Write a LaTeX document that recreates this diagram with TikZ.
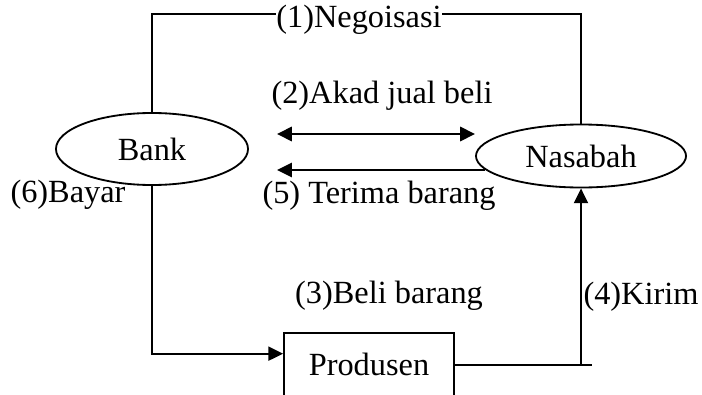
\documentclass[tikz,border=0pt]{standalone}
\usepackage{fontspec}
\setmainfont{Liberation Serif}
\usetikzlibrary{
  arrows.meta,
  shapes.geometric,
  positioning
}

\begin{document}
\begin{tikzpicture}[
      x=0.025cm, y=-0.025cm,
      party/.style={
         ellipse,
         draw=black,
         line width=1.3pt,
         inner sep=0pt
      },
      maker/.style={
         rectangle,
         draw=black,
         line width=1.3pt,
         minimum width=4.25cm,
         minimum height=1.6cm,
         anchor=north
      },
      caption/.style={inner sep=0pt},
      every node/.style={font=\fontsize{23}{27}\selectfont},
      >={Triangle[length=10.5pt,width=10pt]},
      wire/.style={line width=1.3pt},
      tip/.style={->,line width=1.3pt},
      bold tip/.style={<->,line width=2pt}
    ]
  \useasboundingbox (0,0) rectangle (702,394);
  \clip (0,0) rectangle (702,394);
  % parties
  \node (bank) [party, minimum width=4.8cm, minimum height=1.8cm] at (152,149) {Bank};
  \node (nasabah) [party, minimum width=5.25cm, minimum height=1.575cm] at (581,156) {Nasabah};
  \node (prod) [maker] at (369,332) {Produsen};
  % (1) over the top
  \draw[wire] (bank.north) -- ++(0,-98) -| (nasabah.north);
  \node (neg) [caption, fill=white] at (359,20) {(1)Negoisasi};
  % (2) and (5)
  \coordinate (a2l) at (277,134);
  \coordinate (a2r) at (475,134);
  \draw[bold tip] (a2l) -- (a2r);
  \node (akad) [caption] at (382,96) {(2)Akad jual beli};
  \coordinate (a5) at (277,170);
  \draw[tip] (nasabah.188 |- a5) -- (a5);
  \node (terima) [caption] at (379,196) {(5) Terima barang};
  % (6) and (3)
  \draw[tip] (bank.south) |- ([yshift=8pt]prod.west);
  \node (bayar) [caption] at (68,195) {(6)Bayar};
  \node (beli) [caption] at (389,296) {(3)Beli barang};
  % (4)
  \coordinate (k4) at (592,0);
  \draw[wire] (prod.east) -- (prod.east -| k4);
  \draw[tip] (nasabah.south |- prod.east) -- (nasabah.south);
  \node (kirim) [caption] at (641,297) {(4)Kirim};
\end{tikzpicture}
\end{document}
